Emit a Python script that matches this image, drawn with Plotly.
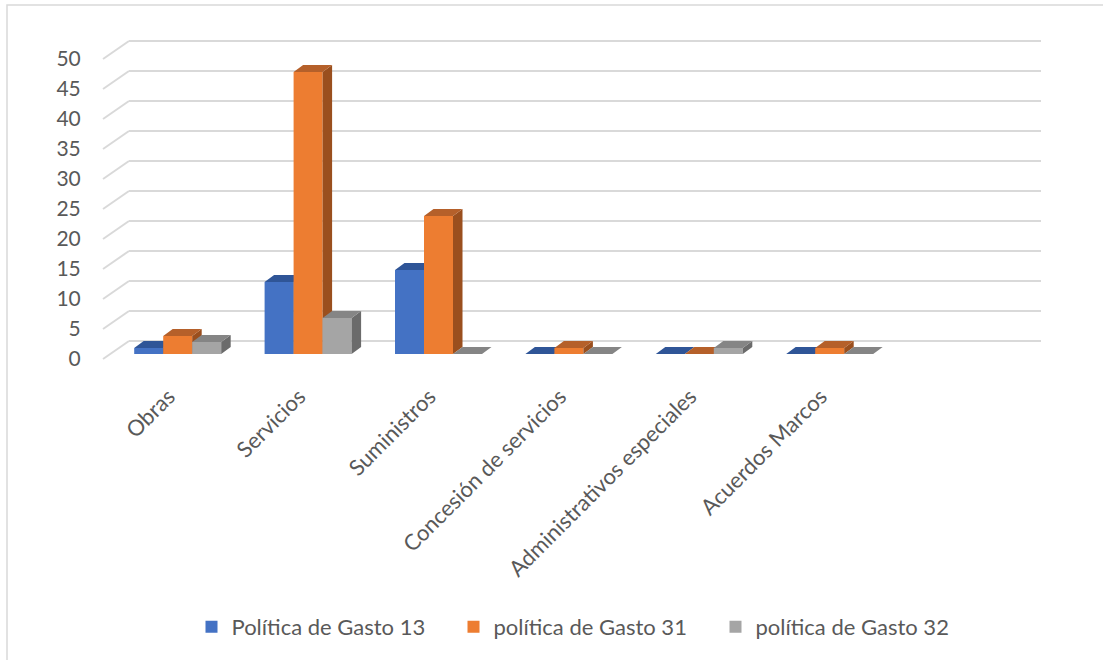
import plotly.graph_objects as go

# ---------------- data ----------------
categories = ["Obras", "Servicios", "Suministros", "Concesión de servicios",
              "Administrativos especiales", "Acuerdos Marcos"]
serie_13 = [1, 12, 14, 0, 0, 0]
serie_31 = [3, 47, 23, 1, 0, 1]
serie_32 = [2, 6, 0, 0, 1, 0]
series_names = ["Política de Gasto 13", "política de Gasto 31", "política de Gasto 32"]
y_ticks = list(range(0, 51, 5))

# ---------------- style / geometry ----------------
W, H = 1103, 660
PL, PR, PT, PB = 129, 1041, 30, 370          # plot area in px
PX_X = 130.4                                  # px per category step
PX_Y = 6.0                                    # px per value unit
CAT0_PX = 177.7                               # px of first category centre
BAR_W = 29.0 / PX_X
DX = 9.5 / PX_X                               # depth offset of bar (x units)
DY = 7.0 / PX_Y                               # depth offset of bar (y units)
LABEL_SHIFT = -9.0 / PX_X                     # x-label anchor shift

front_col = ["#4472C4", "#ED7D31", "#A5A5A5"]
top_col = ["#2F5597", "#B5602A", "#858585"]
side_col = ["#26467C", "#9A4F1E", "#6B6B6B"]
TXT = "#595959"
GRID = "#D9D9D9"
FONT = "Lato"


def yrange(zero_px):
    return [(zero_px - PB) / PX_Y, (zero_px - PT) / PX_Y]


x_range = [(PL - CAT0_PX) / PX_X, (PR - CAT0_PX) / PX_X]

fig = go.Figure()

# invisible traces to anchor the grid axis and the label axis
fig.add_trace(go.Scatter(x=[None], y=[None], xaxis="x", yaxis="y",
                         showlegend=False, hoverinfo="skip"))
fig.add_trace(go.Scatter(x=[None], y=[None], xaxis="x", yaxis="y2",
                         showlegend=False, hoverinfo="skip"))

all_series = [serie_13, serie_31, serie_32]
offsets = [-1.5, -0.5, 0.5]
xs = list(range(len(categories)))
for k, vals in enumerate(all_series):
    ya = "y%d" % (k + 3)
    fig.add_trace(go.Bar(
        x=xs, y=vals, name=series_names[k], width=BAR_W,
        offset=offsets[k] * BAR_W, marker=dict(color=front_col[k], line=dict(width=0)),
        xaxis="x", yaxis=ya, showlegend=True))
    sx, sy, tx, ty = [], [], [], []
    for i, v in enumerate(vals):
        x0 = i + offsets[k] * BAR_W
        x1 = x0 + BAR_W
        sx += [x1, x1, x1 + DX, x1 + DX, x1, None]
        sy += [0, v, v + DY, DY, 0, None]
        tx += [x0, x1, x1 + DX, x0 + DX, x0, None]
        ty += [v, v, v + DY, v + DY, v, None]
    fig.add_trace(go.Scatter(x=sx, y=sy, mode="lines", fill="toself",
                             fillcolor=side_col[k], line=dict(width=0),
                             xaxis="x", yaxis=ya, showlegend=False, hoverinfo="skip"))
    fig.add_trace(go.Scatter(x=tx, y=ty, mode="lines", fill="toself",
                             fillcolor=top_col[k], line=dict(width=0),
                             xaxis="x", yaxis=ya, showlegend=False, hoverinfo="skip"))

# slanted floor segments of gridlines
shapes = []
for v in y_ticks:
    shapes.append(dict(type="line", xref="paper", xsizemode="pixel", xanchor=0,
                       x0=-26, x1=0, yref="y", ysizemode="pixel", yanchor=v,
                       y0=-18, y1=0, line=dict(color=GRID, width=2), layer="below"))
# chart border (top and left visible)
pw, ph = PR - PL, PB - PT
shapes.append(dict(type="rect", xref="paper", yref="paper",
                   x0=(7 - PL) / pw, x1=(W + 10 - PL) / pw,
                   y0=(PB - 5) / ph, y1=(PB - (H + 10)) / ph,
                   line=dict(color=GRID, width=1.5), fillcolor="rgba(0,0,0,0)", layer="below"))

bar_axis = dict(range=yrange(354), overlaying="y", anchor="x", visible=False,
                showgrid=False, zeroline=False, fixedrange=True)

fig.update_layout(
    width=W, height=H,
    margin=dict(l=PL, r=W - PR, t=PT, b=H - PB, pad=0),
    paper_bgcolor="white", plot_bgcolor="rgba(0,0,0,0)",
    font=dict(family=FONT, color=TXT, size=20),
    xaxis=dict(range=x_range, tickvals=[i + LABEL_SHIFT for i in xs], ticktext=categories,
               tickangle=-45, showgrid=False, zeroline=False, showline=False,
               ticks="outside", ticklen=4, tickcolor="rgba(0,0,0,0)",
               tickfont=dict(family=FONT, size=22, color=TXT)),
    yaxis=dict(range=yrange(341), tickvals=y_ticks, showticklabels=False,
               showgrid=True, gridcolor=GRID, gridwidth=2, zeroline=False,
               showline=False, ticks=""),
    yaxis2=dict(range=yrange(359), tickvals=y_ticks, overlaying="y", anchor="x",
                side="left", showgrid=False, zeroline=False, showline=False,
                ticks="outside", ticklen=43, tickcolor="rgba(0,0,0,0)",
                tickfont=dict(family=FONT, size=21, color=TXT)),
    yaxis3=bar_axis, yaxis4=bar_axis, yaxis5=bar_axis,
    barmode="overlay",
    legend=dict(orientation="h", xref="container", yref="container",
                x=584.5 / W, xanchor="center", y=1 - 627 / H, yanchor="middle",
                entrywidth=217, entrywidthmode="pixels", itemwidth=30,
                font=dict(family=FONT, size=22, color=TXT), traceorder="normal"),
    shapes=shapes,
    showlegend=True,
)

fig.write_html("out.html")
